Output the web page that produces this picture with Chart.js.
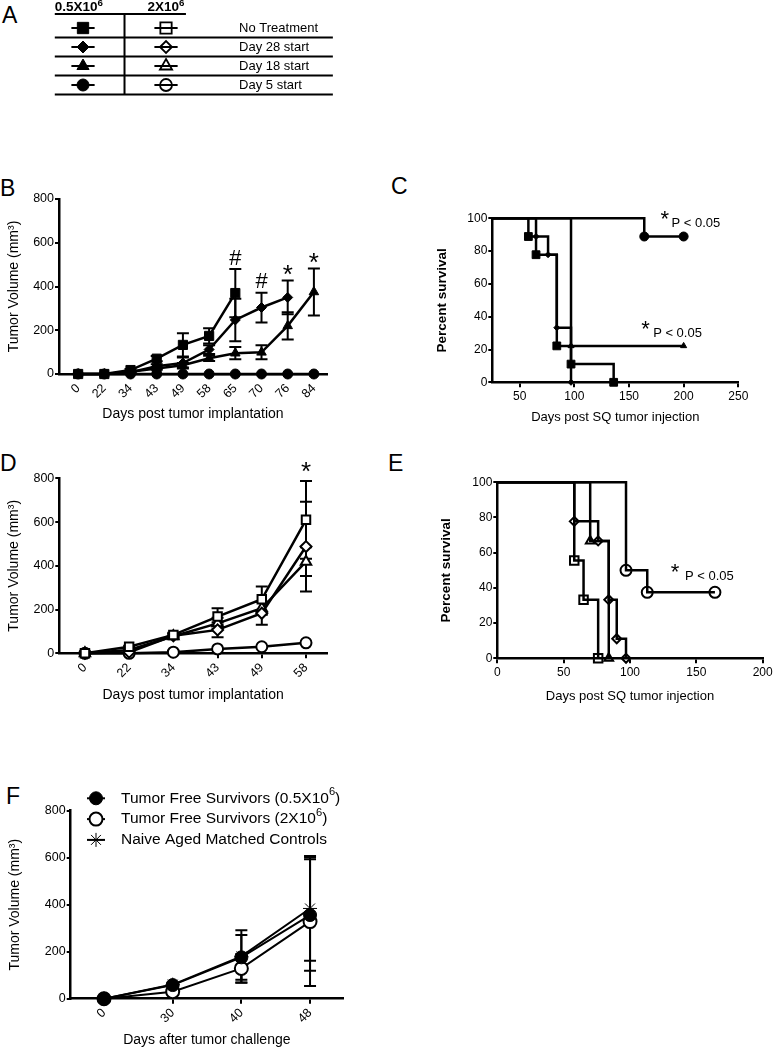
<!DOCTYPE html>
<html>
<head>
<meta charset="utf-8">
<title>Tumor growth and survival</title>
<script src="https://cdn.jsdelivr.net/npm/chart.js@4.4.1/dist/chart.umd.min.js"></script>
<style>
html, body { margin: 0; padding: 0; background: #fff; overflow: hidden; }
body { position: relative; width: 773px; height: 1050px; font-family: "Liberation Sans", Arial, sans-serif; }
canvas { position: absolute; }
.tag { position: absolute; font-size: 23px; line-height: 1; color: #000; }
</style>
</head>
<body>
<div class="tag" style="left:2px;top:4px">A</div>
<div class="tag" style="left:0px;top:177px">B</div>
<div class="tag" style="left:391px;top:175px">C</div>
<div class="tag" style="left:0px;top:452px">D</div>
<div class="tag" style="left:388px;top:452px">E</div>
<div class="tag" style="left:6px;top:785px">F</div>
<canvas id="chartA"></canvas>
<canvas id="chartB"></canvas>
<canvas id="chartC"></canvas>
<canvas id="chartD"></canvas>
<canvas id="chartE"></canvas>
<canvas id="chartF"></canvas>
<script>
const FONT = '"Liberation Sans", Arial, Helvetica, sans-serif'
Chart.defaults.font.family = FONT
Chart.defaults.color = '#000'

// --- A: symbol key ---
const aDoses = ['0.5X10⁶', '2X10⁶']
const aGroups = ['No Treatment', 'Day 28 start', 'Day 18 start', 'Day 5 start']
const aShapes = ['rect', 'rectRot', 'triangle', 'circle']

// --- B: tumor volume, 0.5X10^6 ---
const bDays = ['0', '22', '34', '43', '49', '58', '65', '70', '76', '84']
const bNoTreat = [0, 0, 18, 70, 133, 174, 370]
const bNoTreatSem = [0, 0, 5, 12, 53, 35, 110]
const bDay28 = [0, 0, 8, 35, 50, 112, 247, 304, 350]
const bDay28Sem = [0, 0, 3, 10, 25, 20, 97, 68, 77]
const bDay18 = [0, 0, 10, 25, 40, 72, 95, 99, 220, 375]
const bDay18Sem = [0, 0, 3, 6, 10, 12, 28, 32, 62, 107]
const bDay5 = [0, 0, 0, 0, 0, 0, 0, 0, 0, 0]
const bSig = ['', '', '', '', '', '', '#', '#', '*', '*']

// --- C: survival, 0.5X10^6 ---
const cNoTreatDay = [0, 58, 65, 84, 97, 136]
const cNoTreatPct = [100, 88.9, 77.8, 22.2, 11.1, 0]
const cDay28Day = [0, 65, 76, 84, 97]
const cDay28Pct = [100, 88.9, 77.8, 33.3, 0]
const cDay18Day = [0, 97, 200]
const cDay18Pct = [100, 22.2, 22.2]
const cDay5Day = [0, 164, 200]
const cDay5Pct = [100, 88.9, 88.9]

// --- D: tumor volume, 2X10^6 ---
const dDays = ['0', '22', '34', '43', '49', '58']
const dNoTreat = [0, 30, 84, 168, 247, 610]
const dNoTreatSem = [0, 5, 10, 38, 58, 178]
const dDay28 = [0, 5, 80, 107, 183, 488]
const dDay28Sem = [0, 3, 10, 34, 53, 205]
const dDay18 = [0, 15, 78, 137, 206, 419]
const dDay18Sem = [0, 4, 10, 25, 30, 66]
const dDay5 = [0, 0, 5, 20, 30, 48]
const dSig = ['', '', '', '', '', '*']

// --- E: survival, 2X10^6 ---
const eNoTreatDay = [0, 58, 65, 76]
const eNoTreatPct = [100, 55.6, 33.3, 0]
const eDay28Day = [0, 58, 76, 84, 90, 97]
const eDay28Pct = [100, 77.8, 66.7, 33.3, 11.1, 0]
const eDay18Day = [0, 70, 84]
const eDay18Pct = [100, 66.7, 0]
const eDay5Day = [0, 97, 113, 164]
const eDay5Pct = [100, 50, 37.5, 37.5]

// --- F: rechallenge ---
const fDays = ['0', '30', '40', '48']
const fLabels = ['Tumor Free Survivors (0.5X10⁶)', 'Tumor Free Survivors (2X10⁶)', 'Naive Aged Matched Controls']
const fSurv05 = [0, 58, 176, 356]
const fSurv05Sem = [0, 8, 95, 237]
const fSurv2 = [0, 30, 129, 328]
const fSurv2Sem = [0, 8, 61, 274]
const fNaive = [0, 60, 180, 384]
const fNaiveSem = [0, 8, 111, 223]

const volTicks = [0, 200, 400, 600, 800]
const pctTicks = [0, 20, 40, 60, 80, 100]
const cDayTicks = [50, 100, 150, 200, 250]
const eDayTicks = [0, 50, 100, 150, 200]

const idx = arr => arr.map((_, i) => i)

// draws text with superscript digits raised and smaller
const SUP = {'⁶': '6', '³': '3'}
function drawRich(ctx, text, x, y, size, weight, align) {
    const parts = []
    for (const ch of text) {
        const sup = SUP[ch] !== undefined
        const last = parts[parts.length - 1]
        if (last && last.sup === sup) last.t += sup ? SUP[ch] : ch
        else parts.push({t: sup ? SUP[ch] : ch, sup: sup})
    }
    const fontOf = p => (weight ? weight + ' ' : '') + (p.sup ? size * 0.72 : size) + 'px ' + FONT
    let w = 0
    parts.forEach(p => { ctx.font = fontOf(p); p.w = ctx.measureText(p.t).width; w += p.w })
    let cx = align === 'center' ? x - w / 2 : x
    ctx.textAlign = 'left'
    parts.forEach(p => {
        ctx.font = fontOf(p)
        ctx.fillText(p.t, cx, p.sup ? y - size * 0.42 : y)
        cx += p.w
    })
}

function series(xs, ys, st) {
    const pts = ys.map((v, i) => ({x: xs[i], y: v}))
    return {
        label: st.label || '',
        data: pts,
        borderColor: '#000',
        borderWidth: st.lw || 2.5,
        pointStyle: st.shape,
        pointRadius: st.km ? pts.map((_, i) => i ? st.r : 0) : st.r,
        pointBorderWidth: st.open ? 2 : 1,
        pointBackgroundColor: st.open ? (st.seeThrough ? 'rgba(0,0,0,0)' : '#fff') : '#000',
        pointBorderColor: '#000',
        stepped: st.km ? 'before' : false,
        sem: st.sem || null,
        clip: {left: 0, top: 12, right: 12, bottom: 12}
    }
}

function xAxis(box, area, o) {
    return {
        type: 'linear', min: o.min, max: o.max,
        border: {color: '#000', width: 2.5},
        grid: {drawOnChartArea: false, color: '#000', lineWidth: 2, tickLength: 5},
        afterBuildTicks: s => { s.ticks = o.ticks.map(v => ({value: v})) },
        ticks: {
            color: '#000', font: {size: o.tickSize}, padding: o.tickPad, autoSkip: false,
            minRotation: o.rot, maxRotation: o.rot,
            callback: v => o.labels ? o.labels[v] : String(v)
        },
        title: {display: true, text: o.title, color: '#000', font: {size: o.titleSize}, padding: 0},
        afterFit: s => { s.height = box.y + box.h - area.bottom }
    }
}

function yAxis(box, area, o) {
    return {
        type: 'linear', min: o.min, max: o.max,
        border: {color: '#000', width: 2.5},
        grid: {drawOnChartArea: false, color: '#000', lineWidth: 2, tickLength: 4},
        afterBuildTicks: s => { s.ticks = o.ticks.map(v => ({value: v})) },
        ticks: {color: '#000', font: {size: o.tickSize}, padding: 1},
        title: {display: true, text: o.title, color: '#000',
                font: {size: o.titleSize, weight: o.bold ? 'bold' : 'normal'}, padding: 0},
        afterFit: s => { s.width = area.left - box.x }
    }
}

const errorBars = {
    id: 'errorBars',
    beforeDatasetsDraw(chart) {
        const ctx = chart.ctx, ys = chart.scales.y
        ctx.save()
        ctx.strokeStyle = '#000'
        ctx.lineWidth = 2
        chart.data.datasets.forEach((ds, i) => {
            if (!ds.sem) return
            chart.getDatasetMeta(i).data.forEach((pt, j) => {
                const e = ds.sem[j]
                if (!e) return
                const v = ds.data[j].y
                const t = ys.getPixelForValue(v + e), b = ys.getPixelForValue(Math.max(v - e, 0))
                ctx.beginPath()
                ctx.moveTo(pt.x, t); ctx.lineTo(pt.x, b)
                ctx.moveTo(pt.x - 6, t); ctx.lineTo(pt.x + 6, t)
                ctx.moveTo(pt.x - 6, b); ctx.lineTo(pt.x + 6, b)
                ctx.stroke()
            })
        })
        ctx.restore()
    }
}

function notesPlugin(items) {
    return {
        id: 'notes',
        afterDraw(chart) {
            const ctx = chart.ctx, xs = chart.scales.x, ys = chart.scales.y
            ctx.save()
            ctx.fillStyle = '#000'
            ctx.textBaseline = 'middle'
            items.forEach(n => {
                ctx.font = n.size + 'px ' + FONT
                ctx.textAlign = n.align || 'center'
                const lift = n.text === '*' ? 0.23 * n.size : 0
                ctx.fillText(n.text, xs.getPixelForValue(n.x), ys.getPixelForValue(n.y) + (n.dy || 0) + lift)
            })
            ctx.restore()
        }
    }
}

// significance marks sit above the highest error bar of each day
function sigNotes(labels, groups, dy) {
    const out = []
    labels.forEach((t, i) => {
        if (!t) return
        let top = 0
        groups.forEach(g => {
            if (i < g[0].length) top = Math.max(top, g[0][i] + (g[1] ? g[1][i] : 0))
        })
        out.push({x: i, y: top, text: t, size: t === '*' ? 26 : 22, dy: dy})
    })
    return out
}

function makeChart(id, box, area, datasets, sx, sy, plugins) {
    const cv = document.getElementById(id)
    cv.width = box.w
    cv.height = box.h
    cv.style.left = box.x + 'px'
    cv.style.top = box.y + 'px'
    return new Chart(cv, {
        type: 'line',
        data: {datasets: datasets},
        options: {
            responsive: false, animation: false, events: [],
            layout: {padding: {left: 0, top: area.top - box.y, right: box.x + box.w - area.right, bottom: 0}},
            plugins: {legend: {display: false}, tooltip: {enabled: false}},
            scales: {x: sx, y: sy}
        },
        plugins: plugins
    })
}

// ---------- A ----------
const aSize = {rect: 8, rectRot: 6, triangle: 7, circle: 6}
const aDatasets = []
aGroups.forEach((g, i) => aDoses.forEach((d, c) => {
    aDatasets.push({
        data: [{x: c - 0.14, y: i}, {x: c, y: i}, {x: c + 0.14, y: i}],
        borderColor: '#000', borderWidth: 2,
        pointStyle: aShapes[i], pointRadius: [0, aSize[aShapes[i]], 0],
        pointBorderWidth: c ? 1.8 : 1,
        pointBackgroundColor: c ? 'rgba(0,0,0,0)' : '#000', pointBorderColor: '#000'
    })
}))
const tableA = {
    id: 'tableA',
    afterDraw(chart) {
        const ctx = chart.ctx, xs = chart.scales.x, ys = chart.scales.y
        const X = v => xs.getPixelForValue(v), Y = v => ys.getPixelForValue(v)
        ctx.save()
        ctx.strokeStyle = '#000'
        ctx.lineWidth = 2
        ctx.beginPath()
        ctx.moveTo(X(-0.34), Y(-0.74)); ctx.lineTo(X(1.24), Y(-0.74))
        aGroups.forEach((_, i) => { ctx.moveTo(X(-0.34), Y(i + 0.5)); ctx.lineTo(X(3.01), Y(i + 0.5)) })
        ctx.moveTo(X(0.5), Y(-0.74)); ctx.lineTo(X(0.5), Y(aGroups.length - 0.5))
        ctx.stroke()
        ctx.fillStyle = '#000'
        ctx.textBaseline = 'alphabetic'
        aDoses.forEach((d, c) => drawRich(ctx, d, X(c - (c ? 0 : 0.05)), Y(-0.74) - 2.5, 13.5, 'bold', 'center'))
        ctx.font = '13px ' + FONT
        ctx.textAlign = 'left'
        ctx.textBaseline = 'middle'
        aGroups.forEach((g, i) => ctx.fillText(g, X(1.88), Y(i)))
        ctx.restore()
    }
}
const cvA = document.getElementById('chartA')
cvA.width = 340; cvA.height = 100
cvA.style.left = '0px'; cvA.style.top = '0px'
new Chart(cvA, {
    type: 'line',
    data: {datasets: aDatasets},
    options: {
        responsive: false, animation: false, events: [],
        layout: {padding: 0},
        plugins: {legend: {display: false}, tooltip: {enabled: false}},
        scales: {
            x: {type: 'linear', display: false, min: -1, max: 3.096},
            y: {type: 'linear', display: false, reverse: true, min: -1.474, max: 3.789}
        }
    },
    plugins: [tableA]
})

// ---------- B ----------
const boxB = {x: 6, y: 185, w: 339, h: 238}
const areaB = {left: 59, top: 199, right: 327, bottom: 374}
const bX = idx(bDays)
makeChart('chartB', boxB, areaB, [
    series(bX, bNoTreat, {shape: 'rect', r: 6.5, sem: bNoTreatSem}),
    series(bX, bDay28, {shape: 'rectRot', r: 5, sem: bDay28Sem}),
    series(bX, bDay18, {shape: 'triangle', r: 5.5, sem: bDay18Sem}),
    series(bX, bDay5, {shape: 'circle', r: 5})
],
    xAxis(boxB, areaB, {min: -0.73, max: 9.5, ticks: bX, labels: bDays, rot: 45, tickSize: 12.5, tickPad: 2,
        title: 'Days post tumor implantation', titleSize: 14}),
    yAxis(boxB, areaB, {min: 0, max: 800, ticks: volTicks, tickSize: 12.5, title: 'Tumor Volume (mm³)', titleSize: 14}),
    [errorBars, notesPlugin(sigNotes(bSig, [[bNoTreat, bNoTreatSem], [bDay28, bDay28Sem], [bDay18, bDay18Sem]], -10.5))])

// ---------- C ----------
const boxC = {x: 434, y: 195, w: 339, h: 230}
const areaC = {left: 492.3, top: 218.3, right: 738.3, bottom: 382.3}
makeChart('chartC', boxC, areaC, [
    series(cNoTreatDay, cNoTreatPct, {shape: 'rect', r: 5.5, km: true}),
    series(cDay28Day, cDay28Pct, {shape: 'rectRot', r: 3, km: true}),
    series(cDay18Day, cDay18Pct, {shape: 'triangle', r: 3.5, km: true}),
    series(cDay5Day, cDay5Pct, {shape: 'circle', r: 4.5, km: true})
],
    xAxis(boxC, areaC, {min: 25, max: 250, ticks: cDayTicks, rot: 0, tickSize: 12, tickPad: 2,
        title: 'Days post SQ tumor injection', titleSize: 13}),
    yAxis(boxC, areaC, {min: 0, max: 100, ticks: pctTicks, tickSize: 12, title: 'Percent survival', titleSize: 13.5, bold: true}),
    [notesPlugin([
        {x: 182.8, y: 102, text: '*', size: 22},
        {x: 188.9, y: 97, text: 'P < 0.05', size: 13, align: 'left'},
        {x: 165.1, y: 35, text: '*', size: 22},
        {x: 172.1, y: 29.9, text: 'P < 0.05', size: 13, align: 'left'}
    ])])

// ---------- D ----------
const boxD = {x: 6, y: 455, w: 339, h: 249}
const areaD = {left: 59.3, top: 478.3, right: 327, bottom: 653.3}
const dX = idx(dDays)
makeChart('chartD', boxD, areaD, [
    series(dX, dNoTreat, {shape: 'rect', r: 6, open: true, sem: dNoTreatSem}),
    series(dX, dDay28, {shape: 'rectRot', r: 5.5, open: true, sem: dDay28Sem}),
    series(dX, dDay18, {shape: 'triangle', r: 6, open: true, sem: dDay18Sem}),
    series(dX, dDay5, {shape: 'circle', r: 5.5, open: true})
],
    xAxis(boxD, areaD, {min: -0.58, max: 5.475, ticks: dX, labels: dDays, rot: 45, tickSize: 12.5, tickPad: 2,
        title: 'Days post tumor implantation', titleSize: 14}),
    yAxis(boxD, areaD, {min: 0, max: 800, ticks: volTicks, tickSize: 12.5, title: 'Tumor Volume (mm³)', titleSize: 14}),
    [errorBars, notesPlugin(sigNotes(dSig, [[dNoTreat, dNoTreatSem], [dDay28, dDay28Sem], [dDay18, dDay18Sem]], -14))])

// ---------- E ----------
const boxE = {x: 438, y: 460, w: 347, h: 244}
const areaE = {left: 497.3, top: 482.3, right: 762.7, bottom: 658.3}
makeChart('chartE', boxE, areaE, [
    series(eNoTreatDay, eNoTreatPct, {shape: 'rect', r: 6, open: true, seeThrough: true, km: true}),
    series(eDay28Day, eDay28Pct, {shape: 'rectRot', r: 4.5, open: true, seeThrough: true, km: true}),
    series(eDay18Day, eDay18Pct, {shape: 'triangle', r: 5, open: true, seeThrough: true, km: true}),
    series(eDay5Day, eDay5Pct, {shape: 'circle', r: 5.5, open: true, seeThrough: true, km: true})
],
    xAxis(boxE, areaE, {min: 0, max: 200, ticks: eDayTicks, rot: 0, tickSize: 12, tickPad: 2,
        title: 'Days post SQ tumor injection', titleSize: 13}),
    yAxis(boxE, areaE, {min: 0, max: 100, ticks: pctTicks, tickSize: 12, title: 'Percent survival', titleSize: 13.5, bold: true}),
    [notesPlugin([
        {x: 133.9, y: 51.1, text: '*', size: 22},
        {x: 141.4, y: 46.4, text: 'P < 0.05', size: 13, align: 'left'}
    ])])

// ---------- F ----------
const boxF = {x: 7, y: 780, w: 393, h: 269}
const areaF = {left: 70.7, top: 810.7, right: 343, bottom: 998.7}
const fX = idx(fDays)
const legendF = {
    id: 'legendF',
    afterDraw(chart) {
        const ctx = chart.ctx, ca = chart.chartArea
        chart.data.datasets.forEach((ds, i) => {
            const x = ca.left + 25.3, y = ca.top - 12.4 + i * 20.8
            ctx.save()
            ctx.strokeStyle = '#000'
            ctx.lineWidth = 2
            ctx.beginPath(); ctx.moveTo(x - 9, y); ctx.lineTo(x + 9, y); ctx.stroke()
            ctx.fillStyle = ds.pointBackgroundColor
            ctx.lineWidth = ds.pointBorderWidth
            Chart.helpers.drawPoint(ctx, {pointStyle: ds.pointStyle, radius: ds.pointRadius,
                borderWidth: ds.pointBorderWidth, rotation: 0}, x, y)
            ctx.fillStyle = '#000'
            ctx.textBaseline = 'middle'
            drawRich(ctx, ds.label, x + 25, y, 15.5, '', 'left')
            ctx.restore()
        })
    }
}
makeChart('chartF', boxF, areaF, [
    series(fX, fSurv05, {shape: 'circle', r: 6.5, lw: 2, sem: fSurv05Sem, label: fLabels[0]}),
    series(fX, fSurv2, {shape: 'circle', r: 6.5, lw: 2, open: true, sem: fSurv2Sem, label: fLabels[1]}),
    series(fX, fNaive, {shape: 'star', r: 7, lw: 2, sem: fNaiveSem, label: fLabels[2]})
],
    xAxis(boxF, areaF, {min: -0.485, max: 3.48, ticks: fX, labels: fDays, rot: 45, tickSize: 12.5, tickPad: 2,
        title: 'Days after tumor challenge', titleSize: 14}),
    yAxis(boxF, areaF, {min: 0, max: 800, ticks: volTicks, tickSize: 12.5, title: 'Tumor Volume (mm³)', titleSize: 14}),
    [errorBars, legendF])
</script>
</body>
</html>
